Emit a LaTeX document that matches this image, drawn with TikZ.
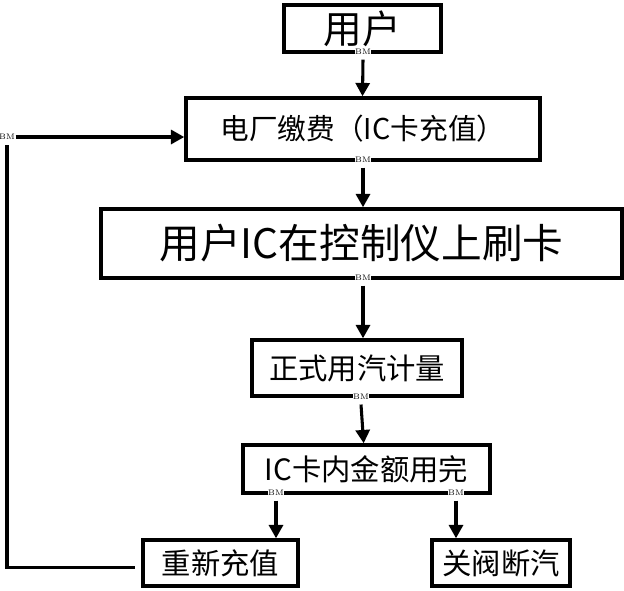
\documentclass[tikz,border=0pt]{standalone}
\usepackage{fontspec}
\newfontfamily\cjk{Noto Sans CJK SC}
\usetikzlibrary{arrows.meta}
\begin{document}
\begin{tikzpicture}[x=0.75pt,y=-0.75pt,
  box/.style={draw, line width=2.6pt, rectangle, inner sep=0pt, font=\cjk},
  bm/.style={fill=white, inner sep=0.4pt, font=\fontsize{6}{6}\selectfont},
  arr/.style={line width=2.3pt, -{Triangle[length=10pt,width=10.5pt]}},
  line/.style={line width=2.3pt}]
\useasboundingbox (0,0) rectangle (624,590);
\node[box, minimum width=117.75pt, minimum height=35.25pt, font=\cjk\fontsize{29}{30}\selectfont] (user) at (362.5,28.5) {用户};
\node[box, minimum width=265.5pt, minimum height=46.5pt, font=\cjk\fontsize{21.5}{22}\selectfont] (fee) at (363,129) {电厂缴费（IC卡充值）};
\node[box, minimum width=390.75pt, minimum height=51.75pt, font=\cjk\fontsize{30.5}{31}\selectfont] (swipe) at (361.5,243.5) {用户IC在控制仪上刷卡};
\node[box, minimum width=157.5pt, minimum height=42pt, font=\cjk\fontsize{22}{23}\selectfont] (meter) at (357,368) {正式用汽计量};
\node[box, minimum width=185.25pt, minimum height=36pt, font=\cjk\fontsize{22}{23}\selectfont] (empty) at (366.5,469) {IC卡内金额用完};
\node[box, minimum width=116.25pt, minimum height=34.5pt, font=\cjk\fontsize{22}{23}\selectfont] (recharge) at (220.5,563) {重新充值};
\node[box, minimum width=103.5pt, minimum height=34.5pt, font=\cjk\fontsize{22}{23}\selectfont] (shut) at (501,563) {关阀断汽};
% BM marks
\node[bm] (bm1) at (363,52) {BM};
\node[bm] (bm2) at (363,160) {BM};
\node[bm] (bm3) at (363,278) {BM};
\node[bm] (bm4) at (361,397) {BM};
\node[bm] (bm5) at (276,493) {BM};
\node[bm] (bm6) at (456,493) {BM};
\node[bm] (bm7) at (7,137) {BM};
% arrows
\draw[arr] ([yshift=-3pt]bm1.south) -- (user.south |- fee.north);
\draw[arr] ([yshift=-3pt]bm2.south) -- (bm2.south |- swipe.north);
\draw[arr] ([yshift=-3pt]bm3.south) -- (bm3.south |- meter.north);
\draw[arr] ([yshift=-3pt]bm4.south) -- ([xshift=2pt]bm4.south |- empty.north);
\draw[arr] ([yshift=-3pt]bm5.south) -- (bm5.south |- recharge.north);
\draw[arr] ([yshift=-3pt]bm6.south) -- (bm6.south |- shut.north);
\draw[line] ([xshift=-5pt,yshift=-3.5pt]recharge.west) -| ([yshift=-3pt]bm7.south);
\draw[arr] (bm7.east) -- (bm7.east -| fee.west);
\end{tikzpicture}
\end{document}
